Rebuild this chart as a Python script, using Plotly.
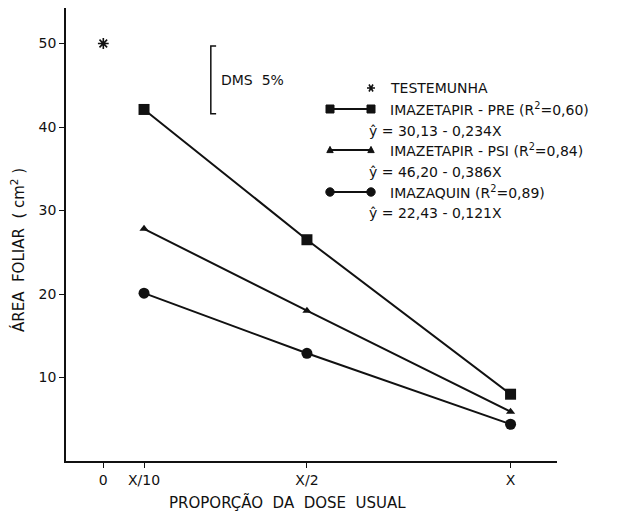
import plotly.graph_objects as go

# ---------------- data ----------------
dose_labels = ["0", "X/10", "X/2", "X"]
dose_values = [0, 0.1, 0.5, 1.0]
treat_doses = [0.1, 0.5, 1.0]
testemunha_dose = [0]
testemunha_area = [50]
pre_area = [42.1, 26.5, 8.0]
psi_area = [27.8, 18.0, 5.9]
imazaquin_area = [20.1, 12.9, 4.4]
y_ticks = [10, 20, 30, 40, 50]
dms_value = 8.1
control_name = "TESTEMUNHA"
series_names = [
    "IMAZETAPIR - PRE (R<sup>2</sup>=0,60)",
    "IMAZETAPIR - PSI (R<sup>2</sup>=0,84)",
    "IMAZAQUIN (R<sup>2</sup>=0,89)",
]
equations = [
    "ŷ = 30,13 - 0,234X",
    "ŷ = 46,20 - 0,386X",
    "ŷ = 22,43 - 0,121X",
]
series_values = [pre_area, psi_area, imazaquin_area]
series_symbols = ["square", "triangle-up", "circle"]
series_sizes = [11, 8, 11]

# ---------------- layout geometry ----------------
# the page body adds an 8 px offset, so the figure is 8 px smaller
OFF = 8
W, H = 629 - OFF, 514 - OFF
ML, MR, MT, MB = 58, 72, 0, 53
PW, PH = W - ML - MR, H - MT - MB
PX_PER_UNIT = 8.35
FONT = "DejaVu Sans"
INK = "#111111"


def pxx(x):
    return (x - OFF - ML) / PW


def pxy(y):
    return (H - MB - (y - OFF)) / PH


def tfont(size):
    return dict(family=FONT, size=size, color=INK)


fig = go.Figure()

for name, vals, sym, size in zip(series_names, series_values, series_symbols, series_sizes):
    fig.add_trace(go.Scatter(
        x=treat_doses, y=vals, mode="lines+markers", name=name,
        line=dict(color=INK, width=2),
        marker=dict(symbol=sym, size=size, color=INK),
        showlegend=False,
    ))

fig.add_trace(go.Scatter(
    x=testemunha_dose, y=testemunha_area, mode="markers", name=control_name,
    marker=dict(symbol="asterisk", size=9, color=INK, line=dict(color=INK, width=1.6)),
    showlegend=False,
))

shapes = []
annotations = []

# DMS 5% bracket
dms_x = 0.264
dms_top = 49.7
serif = 0.013
shapes.append(dict(
    type="path", xref="x", yref="y",
    path=f"M {dms_x+serif},{dms_top} L {dms_x},{dms_top} L {dms_x},{dms_top-dms_value} L {dms_x+serif},{dms_top-dms_value}",
    line=dict(color=INK, width=1.5),
))
annotations.append(dict(
    x=0.284, y=dms_top - dms_value / 2, xref="x", yref="y",
    text="DMS  5%", showarrow=False, xanchor="left", yanchor="middle",
    font=tfont(14),
))

# manual legend
shapes.append(dict(
    type="path", xref="paper", yref="paper", xsizemode="pixel", ysizemode="pixel",
    xanchor=pxx(371), yanchor=pxy(88),
    path="M -4,0 L 4,0 M -2,3.5 L 2,-3.5 M -2,-3.5 L 2,3.5",
    line=dict(color=INK, width=1.6),
))
annotations.append(dict(
    x=pxx(388), y=pxy(88), xref="paper", yref="paper", text=control_name,
    showarrow=False, xanchor="left", yanchor="middle", font=tfont(14),
))

line_ys = [109, 150, 192]
eq_ys = [131, 172, 213]
lx0, lx1 = 330, 371
for name, eq, sym, ly, ey in zip(series_names, equations, series_symbols, line_ys, eq_ys):
    shapes.append(dict(
        type="line", xref="paper", yref="paper",
        x0=pxx(lx0), x1=pxx(lx1), y0=pxy(ly), y1=pxy(ly),
        line=dict(color=INK, width=2),
    ))
    for cx in (lx0, lx1):
        base = dict(xref="paper", yref="paper", xsizemode="pixel", ysizemode="pixel",
                    xanchor=pxx(cx), yanchor=pxy(ly), fillcolor=INK,
                    line=dict(color=INK, width=1))
        if sym == "square":
            shapes.append(dict(type="rect", x0=-4, x1=4, y0=-4, y1=4, **base))
        elif sym == "circle":
            shapes.append(dict(type="circle", x0=-4.2, x1=4.2, y0=-4.2, y1=4.2, **base))
        else:
            shapes.append(dict(type="path", path="M -3.2,-2.6 L 3.2,-2.6 L 0,3.6 Z", **base))
    annotations.append(dict(
        x=pxx(388), y=pxy(ly), xref="paper", yref="paper", text=name,
        showarrow=False, xanchor="left", yanchor="middle", font=tfont(14),
    ))
    annotations.append(dict(
        x=pxx(367), y=pxy(ey), xref="paper", yref="paper", text=eq,
        showarrow=False, xanchor="left", yanchor="middle", font=tfont(14),
    ))

# axis titles
annotations.append(dict(
    x=pxx(18), y=pxy(250), xref="paper", yref="paper",
    text="ÁREA  FOLIAR  ( cm<sup>2</sup> )", textangle=-90, showarrow=False,
    xanchor="center", yanchor="middle", font=tfont(15),
))
annotations.append(dict(
    x=pxx(287), y=pxy(502), xref="paper", yref="paper",
    text="PROPORÇÃO  DA  DOSE  USUAL", showarrow=False,
    xanchor="center", yanchor="middle", font=tfont(15),
))

fig.update_layout(
    width=W, height=H,
    margin=dict(l=ML, r=MR, t=MT, b=MB, pad=0),
    paper_bgcolor="white", plot_bgcolor="white",
    showlegend=False,
    shapes=shapes, annotations=annotations,
    font=dict(family=FONT, size=12, color=INK),
    xaxis=dict(
        range=[-0.0916, 1.114], tickvals=dose_values, ticktext=dose_labels,
        showline=True, linecolor=INK, linewidth=1.6, mirror=False,
        ticks="outside", ticklen=5, tickwidth=1.3, tickcolor=INK,
        showgrid=False, zeroline=False,
        tickfont=tfont(14),
    ),
    yaxis=dict(
        range=[0, PH / PX_PER_UNIT], tickvals=y_ticks,
        showline=True, linecolor=INK, linewidth=1.6, mirror=False,
        ticks="outside", ticklen=5, tickwidth=1.3, tickcolor=INK,
        showgrid=False, zeroline=False,
        tickfont=tfont(14),
    ),
)

fig.write_html("out.html")
